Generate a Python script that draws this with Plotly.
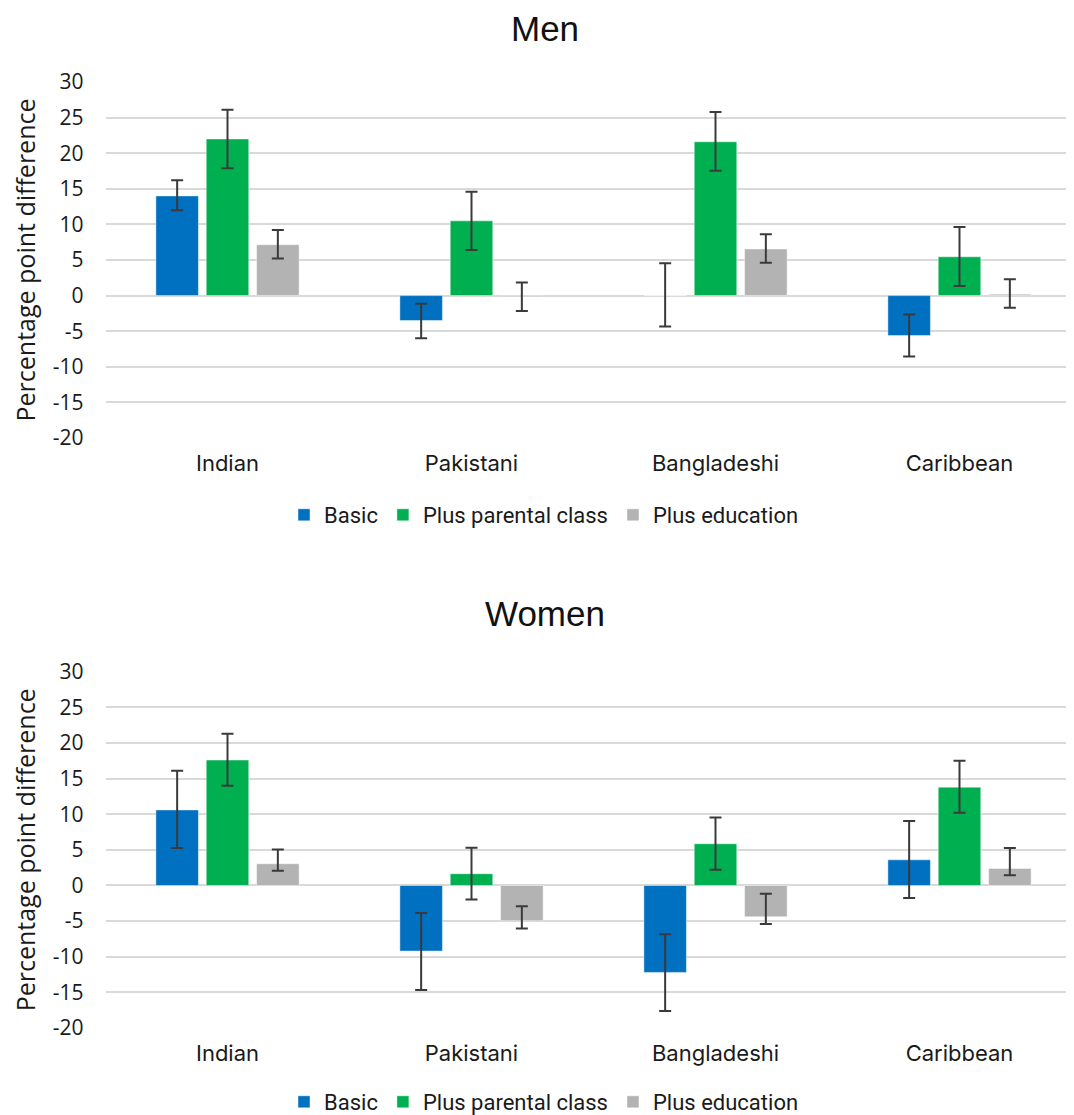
import plotly.graph_objects as go

categories = ["Indian", "Pakistani", "Bangladeshi", "Caribbean"]
series_names = ["Basic", "Plus parental class", "Plus education"]
y_tickvals = [-20, -15, -10, -5, 0, 5, 10, 15, 20, 25, 30]
y_ticktext = ["-20", "-15", "-10", "-5", "0", "5", "10", "15", "20", "25", "30"]

# Men
men_basic = [14.0, -3.5, 0.0, -5.6]
men_basic_lo = [12.0, -6.0, -4.35, -8.55]
men_basic_hi = [16.2, -1.15, 4.55, -2.65]
men_parental = [22.0, 10.5, 21.6, 5.45]
men_parental_lo = [17.9, 6.4, 17.55, 1.35]
men_parental_hi = [26.1, 14.6, 25.8, 9.65]
men_edu = [7.15, -0.15, 6.55, 0.2]
men_edu_lo = [5.2, -2.15, 4.6, -1.7]
men_edu_hi = [9.2, 1.85, 8.6, 2.3]

# Women
women_basic = [10.6, -9.2, -12.2, 3.6]
women_basic_lo = [5.25, -14.65, -17.6, -1.75]
women_basic_hi = [16.1, -3.85, -6.85, 9.05]
women_parental = [17.6, 1.65, 5.85, 13.8]
women_parental_lo = [14.0, -1.95, 2.2, 10.2]
women_parental_hi = [21.3, 5.3, 9.55, 17.5]
women_edu = [3.05, -4.95, -4.4, 2.4]
women_edu_lo = [2.05, -6.05, -5.4, 1.45]
women_edu_hi = [5.05, -2.9, -1.15, 5.25]

colors = ["#0070C0", "#00B050", "#B3B3B3"]

W, H = 1074, 1115
OFF = 8  # default page body margin


def px_y(y):
    return 1 - (y - OFF) / H


def px_x(x):
    return (x - OFF) / W


fig = go.Figure()

panels = [
    ("x", "y", "legend", [(men_basic, men_basic_lo, men_basic_hi),
                          (men_parental, men_parental_lo, men_parental_hi),
                          (men_edu, men_edu_lo, men_edu_hi)]),
    ("x2", "y2", "legend2", [(women_basic, women_basic_lo, women_basic_hi),
                             (women_parental, women_parental_lo, women_parental_hi),
                             (women_edu, women_edu_lo, women_edu_hi)]),
]

for xa, ya, lg, series in panels:
    for name, color, (vals, lo, hi) in zip(series_names, colors, series):
        fig.add_trace(go.Bar(
            x=categories, y=vals, name=name, xaxis=xa, yaxis=ya, legend=lg,
            marker=dict(color=color, line=dict(color="rgba(255,255,255,0.45)", width=1)),
            error_y=dict(type="data", symmetric=False,
                         array=[h - v for h, v in zip(hi, vals)],
                         arrayminus=[v - l for v, l in zip(vals, lo)],
                         color="#3a3a3a", thickness=2, width=6),
        ))

xdom = [px_x(105.5), min(1.0, px_x(1081.5))]
ydom1 = [px_y(438), px_y(82)]
ydom2 = [px_y(1028), px_y(671.7)]

xcommon = dict(range=[-0.5, 3.5], showgrid=False, showline=False, ticks="",
               automargin=False,
               tickfont=dict(family="Inter, Roboto, sans-serif", size=22, color="#1a1a1a"),
               ticklabelstandoff=10, fixedrange=True)
ycommon = dict(range=[-20, 30], tickmode="array", tickvals=y_tickvals, ticktext=y_ticktext,
               showgrid=True, gridcolor="#d9d9d9",
               gridwidth=1.6, zeroline=True, zerolinecolor="#d9d9d9", zerolinewidth=1.6,
               showline=False, ticks="", automargin=False,
               tickfont=dict(family="Open Sans, Liberation Sans, sans-serif", size=21, color="#1a1a1a"),
               ticklabelstandoff=21,
               title=dict(text="Percentage point difference", standoff=10,
                          font=dict(family="Open Sans, Liberation Sans, sans-serif", size=25, color="#1a1a1a")))

legend_common = dict(orientation="h", xanchor="center", x=px_x(544), yanchor="middle",
                     font=dict(family="Roboto, sans-serif", size=22, color="#1a1a1a"),
                     itemwidth=30, itemclick=False, bgcolor="rgba(0,0,0,0)")

fig.update_layout(
    width=W, height=H,
    margin=dict(l=0, r=0, t=0, b=0, autoexpand=False),
    paper_bgcolor="white", plot_bgcolor="white",
    barmode="group", bargap=0.381, bargroupgap=0.155,
    showlegend=True,
    xaxis=dict(domain=xdom, anchor="y", **xcommon),
    yaxis=dict(domain=ydom1, anchor="x", **ycommon),
    xaxis2=dict(domain=xdom, anchor="y2", **xcommon),
    yaxis2=dict(domain=ydom2, anchor="x2", **ycommon),
    legend=dict(y=px_y(515), **legend_common),
    legend2=dict(y=px_y(1102), **legend_common),
    annotations=[
        dict(text="Men", x=px_x(545), y=1.0, xref="paper", yref="paper",
             showarrow=False, xanchor="center", yanchor="top", borderpad=0,
             font=dict(family="Liberation Sans, Arial, sans-serif", size=35, color="#111111")),
        dict(text="Women", x=px_x(545), y=px_y(593), xref="paper", yref="paper",
             showarrow=False, xanchor="center", yanchor="top", borderpad=0,
             font=dict(family="Liberation Sans, Arial, sans-serif", size=35, color="#111111")),
    ],
)

fig.write_html("out.html")
